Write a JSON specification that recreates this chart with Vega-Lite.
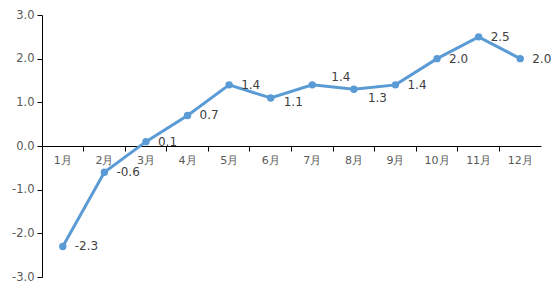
{
  "$schema": "https://vega.github.io/schema/vega-lite/v6.json",
  "width": 499,
  "height": 262,
  "autosize": "none",
  "padding": {"left": 42, "top": 15, "right": 15, "bottom": 16},
  "background": "white",
  "config": {
    "view": {"stroke": null},
    "font": "DejaVu Sans",
    "locale": {"number": {"decimal": ".", "thousands": ",", "grouping": [3], "currency": ["$", ""], "minus": "-"}}
  },
  "data": {"values": [
    {"month": "1月", "value": -2.3, "pos": "right"},
    {"month": "2月", "value": -0.6, "pos": "right"},
    {"month": "3月", "value": 0.1, "pos": "right"},
    {"month": "4月", "value": 0.7, "pos": "right"},
    {"month": "5月", "value": 1.4, "pos": "right"},
    {"month": "6月", "value": 1.1, "pos": "lowright"},
    {"month": "7月", "value": 1.4, "pos": "above"},
    {"month": "8月", "value": 1.3, "pos": "below"},
    {"month": "9月", "value": 1.4, "pos": "right"},
    {"month": "10月", "value": 2.0, "pos": "right"},
    {"month": "11月", "value": 2.5, "pos": "right"},
    {"month": "12月", "value": 2.0, "pos": "right"}
  ]},
  "encoding": {
    "x": {
      "field": "month", "type": "ordinal", "sort": null,
      "scale": {"paddingInner": 0, "paddingOuter": 0},
      "axis": {
        "title": null, "orient": "bottom", "offset": -131, "labelAngle": 0,
        "bandPosition": 0, "domainColor": "#000", "tickColor": "#000",
        "tickSize": 5, "labelPadding": 3, "labelFontSize": 11, "labelColor": "#595959",
        "labelFont": "DejaVu Sans"
      }
    },
    "y": {
      "field": "value", "type": "quantitative",
      "scale": {"domain": [-3, 3], "nice": false},
      "axis": {
        "title": null, "values": [-3, -2, -1, 0, 1, 2, 3], "format": ".1f",
        "grid": false, "domainColor": "#000", "tickColor": "#000", "tickSize": 5,
        "labelPadding": 3, "labelFontSize": 11.5, "labelColor": "#595959",
        "labelFont": "DejaVu Sans"
      }
    }
  },
  "layer": [
    {"mark": {"type": "line", "color": "#5b9bd5", "strokeWidth": 3}},
    {"mark": {"type": "point", "filled": true, "color": "#5b9bd5", "size": 55, "opacity": 1}},
    {
      "transform": [{"filter": "datum.pos == 'right'"}],
      "mark": {"type": "text", "align": "left", "baseline": "middle", "dx": 12, "fontSize": 12, "color": "#404040"},
      "encoding": {"text": {"field": "value", "format": ".1f"}}
    },
    {
      "transform": [{"filter": "datum.pos == 'lowright'"}],
      "mark": {"type": "text", "align": "left", "baseline": "middle", "dx": 13, "dy": 4, "fontSize": 12, "color": "#404040"},
      "encoding": {"text": {"field": "value", "format": ".1f"}}
    },
    {
      "transform": [{"filter": "datum.pos == 'above'"}],
      "mark": {"type": "text", "align": "left", "baseline": "middle", "dx": 19, "dy": -8, "fontSize": 12, "color": "#404040"},
      "encoding": {"text": {"field": "value", "format": ".1f"}}
    },
    {
      "transform": [{"filter": "datum.pos == 'below'"}],
      "mark": {"type": "text", "align": "left", "baseline": "middle", "dx": 14, "dy": 9, "fontSize": 12, "color": "#404040"},
      "encoding": {"text": {"field": "value", "format": ".1f"}}
    },
    {
      "data": {"values": [{"month": "12月"}]},
      "mark": {"type": "rule", "color": "#000", "strokeWidth": 1},
      "encoding": {
        "x": {"field": "month", "type": "ordinal", "bandPosition": 1},
        "y": {"datum": 0},
        "y2": {"datum": -0.115}
      }
    }
  ]
}
